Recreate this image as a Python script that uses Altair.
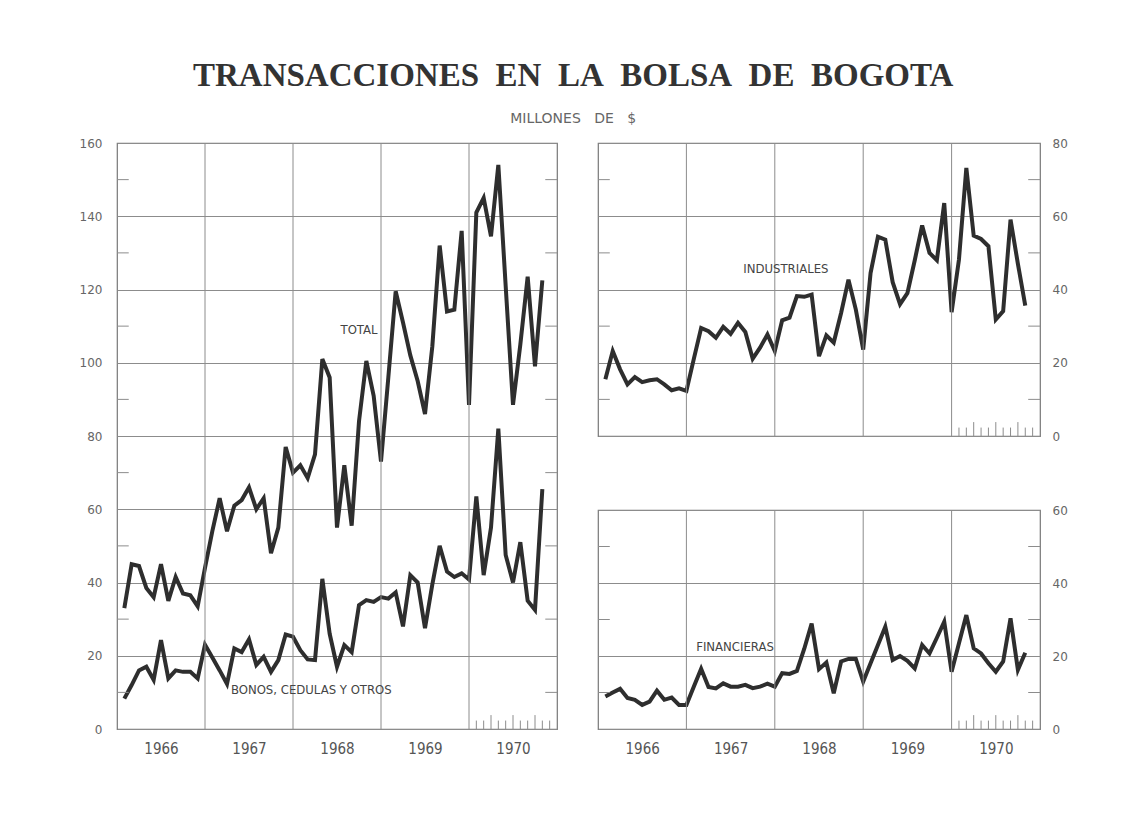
import altair as alt
import pandas as pd

# Month index: Jan 1966 = 1 ... Oct 1970 = 58 (plotted at month end)
months = list(range(1, 59))
year_labels = ["1966", "1967", "1968", "1969", "1970"]

total = [
    33, 45, 44.5, 38.5, 36, 45, 35, 41.5, 37, 36.5, 33.5, 44,          # 1966
    54, 63, 54, 61, 62.5, 66, 60, 63, 48, 55, 77, 70,                  # 1967
    72, 68.5, 75, 101, 96, 55, 72, 55.5, 84, 100.5, 91, 73,            # 1968
    96, 119.5, 111, 102, 95, 86, 104.5, 132, 114, 114.5, 136, 88.5,    # 1969
    141, 145, 134.5, 154, 121, 88.5, 105, 123.5, 99, 122.5,            # 1970
]
bonos = [
    8.3, 12, 16, 17, 13.4, 24.3, 13.8, 16, 15.6, 15.6, 13.8, 23,
    19.5, 16, 12.3, 22, 21, 24.5, 17.5, 19.7, 15.6, 18.8, 25.8, 25.2,
    21.5, 19, 18.8, 41, 26, 17, 22.9, 21, 33.8, 35.2, 34.7, 36,
    35.6, 37.3, 28, 42, 40, 27.5, 39.5, 50, 43, 41.5, 42.5, 40.8,
    63.5, 42, 55, 82, 47.5, 40, 51, 35, 32.5, 65.5,
]
industriales = [
    15.5, 23.2, 18.2, 14.1, 16.1, 14.7, 15.2, 15.5, 14.1, 12.5, 13, 12.3,
    21, 29.5, 28.6, 26.8, 29.8, 27.9, 30.9, 28.4, 21.1, 24.1, 27.7, 23.2,
    31.6, 32.3, 38.2, 38, 38.6, 21.8, 27.5, 25.5, 33.6, 42.7, 34.5, 23.6,
    44.5, 54.4, 53.6, 42, 36, 39, 48, 57.5, 50, 48, 63.6, 33.8,
    48.2, 73.2, 54.7, 53.8, 51.8, 31.8, 34.1, 59.1, 47, 35.6,
]
financieras = [
    8.9, 10, 11, 8.5, 8, 6.6, 7.5, 10.5, 8, 8.6, 6.6, 6.6,
    11.6, 16.5, 11.5, 11.1, 12.5, 11.6, 11.6, 12.1, 11.2, 11.6, 12.4, 11.6,
    15.3, 15.1, 15.9, 22, 28.9, 16.4, 18.2, 9.8, 18.5, 19.2, 19.2, 13,
    18, 23, 28, 18.9, 20, 18.7, 16.6, 23, 20.7, 25, 29.4, 15.7,
    23.5, 31.2, 22.1, 20.7, 18, 15.7, 18.5, 30.3, 16.2, 20.9,
]

year_bounds = [12, 24, 36, 48]
year_centers = [6, 18, 30, 42, 54]
tick_months_1970 = list(range(49, 60))
tick_heights_1970 = [2.3, 2.3, 3.8, 2.3, 2.3, 3.8, 2.3, 2.3, 3.8, 2.3, 2.3]

LINE = "#2e2e2e"
GRID = "#8c8c8c"
LABEL_FONT = "Liberation Sans Narrow, DejaVu Sans Condensed, Liberation Sans, sans-serif"
NUM_FONT = "DejaVu Sans"

XS = alt.Scale(domain=[0, 60], nice=False, zero=False)


def x_axis(show):
    if not show:
        return alt.Axis(values=year_centers, labels=False, grid=False, ticks=False,
                        domain=False, title=None)
    return alt.Axis(values=year_centers,
                    labelExpr="toString(1966 + floor(datum.value / 12))",
                    grid=False, ticks=False, domain=False, title=None,
                    labelFont=LABEL_FONT, labelFontSize=15, labelColor="#555",
                    labelPadding=12)


def panel(series, names, ymax, orient, width, height, show_x, labels):
    rows = []
    for name, vals in zip(names, series):
        for m, v in zip(months, vals):
            rows.append({"m": m, "v": v, "serie": name})
    df = pd.DataFrame(rows)
    ys = alt.Scale(domain=[0, ymax], nice=False)
    xa = x_axis(show_x)
    ya = alt.Axis(values=list(range(0, ymax + 1, 20)), orient=orient,
                  grid=True, gridColor=GRID, gridWidth=1, ticks=False,
                  domain=False, title=None, labelFont=NUM_FONT,
                  labelFontSize=12, labelColor="#666",
                  labelPadding=15 if orient == "left" else 12)

    lines = alt.Chart(df).mark_line(color=LINE, strokeWidth=4, strokeJoin="miter").encode(
        x=alt.X("m:Q", scale=XS, axis=xa),
        y=alt.Y("v:Q", scale=ys, axis=ya),
        detail="serie:N",
    )

    yr = alt.Chart(pd.DataFrame({"m": year_bounds})).mark_rule(
        color=GRID, strokeWidth=1).encode(x=alt.X("m:Q", scale=XS, axis=xa))

    minor_vals = list(range(10, ymax, 20))
    mdf = pd.DataFrame({"y": minor_vals * 2,
                        "x0": [0.0] * len(minor_vals) + [58.4] * len(minor_vals),
                        "x1": [1.6] * len(minor_vals) + [60.0] * len(minor_vals)})
    minor = alt.Chart(mdf).mark_rule(color=GRID, strokeWidth=1).encode(
        x=alt.X("x0:Q", scale=XS, axis=xa), x2="x1:Q",
        y=alt.Y("y:Q", scale=ys, axis=ya))

    tdf = pd.DataFrame({"m": tick_months_1970, "y0": [0] * len(tick_months_1970),
                        "h": tick_heights_1970})
    mticks = alt.Chart(tdf).mark_rule(color=GRID, strokeWidth=1).encode(
        x=alt.X("m:Q", scale=XS, axis=xa), y=alt.Y("y0:Q", scale=ys, axis=ya), y2="h:Q")

    ldf = pd.DataFrame(labels, columns=["m", "v", "t"])
    txt = alt.Chart(ldf).mark_text(font=LABEL_FONT, fontSize=13, color="#444").encode(
        x=alt.X("m:Q", scale=XS, axis=xa), y=alt.Y("v:Q", scale=ys, axis=ya), text="t:N")

    return alt.layer(lines, yr, minor, mticks, txt).properties(width=width, height=height)


left = panel([total, bonos], ["TOTAL", "BONOS"], 160, "left", 440, 586, True,
             [(33, 109, "TOTAL"), (26.5, 10.6, "BONOS, CEDULAS Y OTROS")])
right_top = panel([industriales], ["INDUSTRIALES"], 80, "right", 442, 293, False,
                  [(25.5, 45.5, "INDUSTRIALES")])
right_bottom = panel([financieras], ["FINANCIERAS"], 60, "right", 442, 219, True,
                     [(18.6, 22.4, "FINANCIERAS")])

right_col = alt.vconcat(right_top, right_bottom, spacing=74, bounds="flush")

chart = alt.hconcat(left, right_col, spacing=41, bounds="flush").properties(
    title=alt.TitleParams(
        text="TRANSACCIONES\u00a0 EN\u00a0 LA\u00a0 BOLSA\u00a0 DE\u00a0 BOGOTA",
        subtitle="MILLONES\u00a0\u00a0 DE\u00a0\u00a0 $",
        anchor="middle", font="Liberation Serif", fontSize=33, fontWeight="bold",
        color="#333", subtitleFont="DejaVu Sans", subtitleFontSize=14,
        subtitleColor="#666", subtitlePadding=19, offset=10),
    padding={"left": 70, "top": 52, "right": 20, "bottom": 20},
    background="white",
).configure_view(stroke="#777", strokeWidth=1.2)

chart.save("out.html", embed_options={"renderer": "svg", "actions": False})
